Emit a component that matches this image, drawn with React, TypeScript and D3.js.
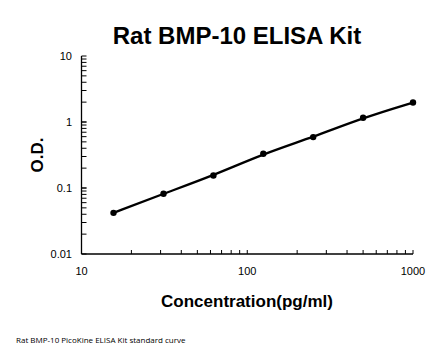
import React from "react";
import * as d3 from "d3";

const concentrations = [15.6, 31.25, 62.5, 125, 250, 500, 1000];
const odValues = [0.042, 0.082, 0.155, 0.33, 0.59, 1.16, 1.97];
const xTickLabels = [10, 100, 1000];
const yTickLabels = [0.01, 0.1, 1, 10];

const W = 446, H = 356;
const left = 81.5, right = 413, top = 56, bottom = 254;

export default function App() {
  const x = d3.scaleLog().domain([10, 1000]).range([left, right]);
  const y = d3.scaleLog().domain([0.01, 10]).range([bottom, top]);

  const minorX: number[] = [];
  for (const d of [10, 100]) for (let k = 2; k <= 10; k++) minorX.push(d * k);
  const minorY: number[] = [];
  for (const d of [0.01, 0.1, 1]) for (let k = 1; k <= 10; k++) minorY.push(d * k);

  const pts = concentrations.map((c, i) => [x(c), y(odValues[i])] as [number, number]);
  const line = d3.line().curve(d3.curveBasis)(pts) || "";

  return (
    <div style={{ margin: -8 }}>
      <svg width={W} height={H} style={{ display: "block", background: "#fff" }}>
        <text x={237} y={44} textAnchor="middle" fontFamily="Liberation Sans, Arial, sans-serif" fontWeight="bold" fontSize={24}>
          Rat BMP-10 ELISA Kit
        </text>
        <line x1={left} y1={top} x2={left} y2={bottom} stroke="#000" strokeWidth={1.3} />
        <line x1={left} y1={bottom} x2={right} y2={bottom} stroke="#000" strokeWidth={1.3} />
        {minorY.map((v, i) => (
          <line key={"my" + i} x1={left} x2={left + 5} y1={y(v)} y2={y(v)} stroke="#000" strokeWidth={1} />
        ))}
        {minorX.map((v, i) => (
          <line key={"mx" + i} x1={x(v)} x2={x(v)} y1={bottom} y2={bottom - 4} stroke="#000" strokeWidth={1} />
        ))}
        {yTickLabels.map((v) => (
          <text key={"yl" + v} x={72} y={y(v) + 4} textAnchor="end" fontFamily="Liberation Sans, Arial, sans-serif" fontSize={11}>
            {String(v)}
          </text>
        ))}
        {xTickLabels.map((v) => (
          <text key={"xl" + v} x={x(v)} y={275} textAnchor="middle" fontFamily="Liberation Sans, Arial, sans-serif" fontSize={11}>
            {v}
          </text>
        ))}
        <text x={247} y={307} textAnchor="middle" fontFamily="Liberation Sans, Arial, sans-serif" fontWeight="bold" fontSize={17}>
          Concentration(pg/ml)
        </text>
        <text transform={`translate(43,155) rotate(-90)`} textAnchor="middle" fontFamily="Liberation Sans, Arial, sans-serif" fontWeight="bold" fontSize={17}>
          O.D.
        </text>
        <path d={line} fill="none" stroke="#000" strokeWidth={2.3} />
        {pts.map((p, i) => (
          <circle key={"p" + i} cx={p[0]} cy={p[1]} r={3.2} fill="#000" />
        ))}
        <text x={16} y={343} fontFamily="Open Sans, sans-serif" fontSize={8}>
          Rat BMP-10 PicoKine ELISA Kit standard curve
        </text>
      </svg>
    </div>
  );
}
